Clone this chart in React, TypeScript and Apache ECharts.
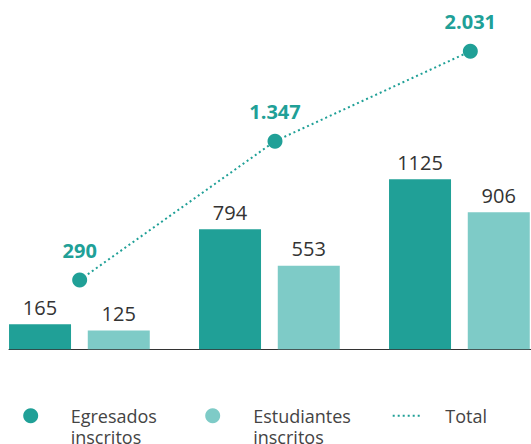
import React, { useEffect, useRef } from "react";
import * as echarts from "echarts";

const categories = ["G1", "G2", "G3"];
const egresados = [165, 794, 1125];
const estudiantes = [125, 553, 906];
const totals = [290, 1347, 2031];

const DARK = "#20a097";
const LIGHT = "#7ecbc7";
const FONT = "'Open Sans', 'Noto Sans', sans-serif";

const fmt = (v: number) => String(v).replace(/\B(?=(\d{3})+(?!\d))/g, ".");

export default function App() {
  const ref = useRef<HTMLDivElement>(null);
  useEffect(() => {
    if (!ref.current) return;
    const chart = echarts.init(ref.current, null, { renderer: "svg" });
    const top = 40;
    const height = 309.3;
    const legendText = { fontSize: 18, lineHeight: 21, color: "#444", fontFamily: FONT };
    chart.setOption({
      animation: false,
      textStyle: { fontFamily: FONT },
      grid: [
        { left: -15.6, width: 570, top, height, outerBoundsMode: "none", containLabel: false },
        { left: -18, width: 586, top, height, outerBoundsMode: "none", containLabel: false },
        { left: 9, right: 0, top, height, outerBoundsMode: "none", containLabel: false },
      ],
      xAxis: [
        { type: "category", gridIndex: 0, data: categories, show: false },
        { type: "category", gridIndex: 1, data: categories, show: false },
        {
          type: "category",
          gridIndex: 2,
          data: categories,
          axisLine: { show: true, lineStyle: { color: "#333", width: 1 } },
          axisTick: { show: false },
          axisLabel: { show: false },
        },
      ],
      yAxis: [
        { type: "value", gridIndex: 0, min: 0, max: 2045, show: false },
        { type: "value", gridIndex: 1, min: -237, max: 2117, show: false },
        { type: "value", gridIndex: 2, min: 0, max: 1, show: false },
      ],
      legend: [
        {
          left: 23.2,
          top: 384.2,
          padding: 0,
          itemWidth: 15,
          itemHeight: 15,
          icon: "circle",
          data: [{ name: "Egresados inscritos", textStyle: { padding: [0, 0, 0, 27.5] } }],
          formatter: () => "\nEgresados\ninscritos",
          textStyle: legendText,
          selectedMode: false,
        },
        {
          left: 205.2,
          top: 384.2,
          padding: 0,
          itemWidth: 15,
          itemHeight: 15,
          icon: "circle",
          data: [{ name: "Estudiantes inscritos", textStyle: { padding: [0, 0, 0, 28] } }],
          formatter: () => "\nEstudiantes\ninscritos",
          textStyle: legendText,
          selectedMode: false,
        },
        {
          left: 391.7,
          top: 405.2,
          padding: 0,
          itemWidth: 29,
          itemHeight: 15,
          itemStyle: { opacity: 0 },
          data: [{ name: "Total", textStyle: { padding: [0, 0, 0, 18.6] } }],
          textStyle: legendText,
          selectedMode: false,
        },
      ],
      series: [
        {
          name: "Egresados inscritos",
          type: "bar",
          xAxisIndex: 0,
          yAxisIndex: 0,
          data: egresados,
          barWidth: 62,
          barGap: "27%",
          itemStyle: { color: DARK },
          label: { show: true, position: "top", distance: 7, color: "#333", fontSize: 20, fontFamily: FONT },
        },
        {
          name: "Estudiantes inscritos",
          type: "bar",
          xAxisIndex: 0,
          yAxisIndex: 0,
          data: estudiantes,
          barWidth: 62,
          barGap: "27%",
          itemStyle: { color: LIGHT },
          label: { show: true, position: "top", distance: 7, color: "#333", fontSize: 20, fontFamily: FONT },
        },
        {
          name: "Total",
          type: "line",
          xAxisIndex: 1,
          yAxisIndex: 1,
          data: totals,
          symbol: "circle",
          symbolSize: 15,
          itemStyle: { color: DARK },
          lineStyle: { color: DARK, width: 2, type: [2, 3] },
          label: {
            show: true,
            position: "top",
            distance: 12,
            color: DARK,
            fontSize: 20,
            fontWeight: "bold",
            fontFamily: FONT,
            formatter: (p: any) => fmt(p.value),
          },
          z: 5,
        },
      ],
    });
    return () => chart.dispose();
  }, []);
  return (
    <div ref={ref} style={{ position: "absolute", left: 0, top: 0, width: 531, height: 444 }} />
  );
}
